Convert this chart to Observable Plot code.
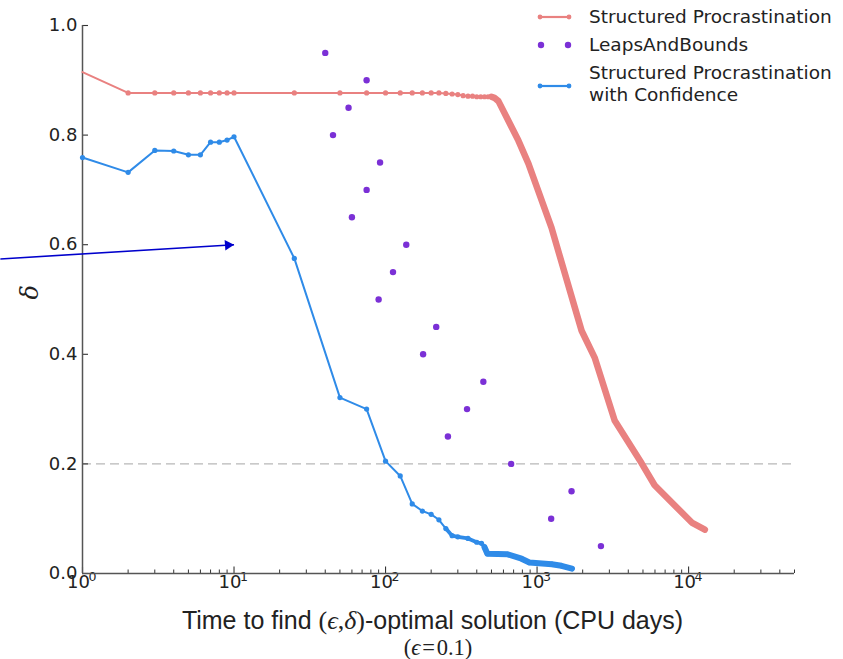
<!DOCTYPE html>
<html>
<head>
<meta charset="utf-8">
<script src="https://cdn.jsdelivr.net/npm/d3@7"></script>
<script src="https://cdn.jsdelivr.net/npm/@observablehq/plot@0.6"></script>
<style>
  body { margin: 0; background: #fff; }
  #wrap { position: relative; width: 843px; height: 659px; overflow: hidden; background: #fff; }
  #chart svg { display: block; }
  .leg { position: absolute; left: 589px; font-family: "DejaVu Sans", sans-serif; font-size: 18.5px; line-height: 22px; color: #222; white-space: nowrap; }
  .sw { position: absolute; left: 534px; }
  #xlabel { position: absolute; left: 0; width: 865px; top: 606px; text-align: center; font-family: "Liberation Sans", Arial, sans-serif; font-size: 25px; line-height: 29px; color: #222; white-space: nowrap; }
  #note { position: absolute; left: 0; width: 876px; top: 635px; text-align: center; font-family: "Liberation Serif", serif; font-size: 22.5px; line-height: 25px; color: #222; white-space: nowrap; }
  .m { font-family: "Liberation Serif", "DejaVu Serif", serif; font-size: 26px; }
</style>
</head>
<body>
<div id="wrap">
  <div id="chart"></div>
  <div id="xlabel">Time to find <span class="m">(<i>ϵ</i>,<i>δ</i>)</span>-optimal solution (CPU days)</div>
  <div id="note">(<i>ϵ</i>&#8202;=&#8202;0.1)</div>
</div>
<script>
// ---- Data ----
// Structured Procrastination
const spTime = [1,2,3,4,5,6,7,8,9,10,
  25,50,75,100,125,150,175,200,225,250,275,300,325,350,375,400,425,450,475,500,
  523,556,753,877,1245,1824,1968,2399,3251,4900,5970,10500,12800];
const spDelta = [0.915,0.877,0.877,0.877,0.877,0.877,0.877,0.877,0.877,0.877,
  0.877,0.877,0.877,0.877,0.877,0.877,0.877,0.877,0.877,0.876,0.875,0.874,0.872,0.871,0.871,0.870,0.870,0.870,0.870,0.870,
  0.868,0.862,0.790,0.748,0.631,0.474,0.443,0.394,0.279,0.201,0.161,0.093,0.080];

// LeapsAndBounds
const lbTime  = [40,75,57,45,92,75,60,137,112,90,216,177,442,345,258,674,1689,1239,2639];
const lbDelta = [0.95,0.90,0.85,0.80,0.75,0.70,0.65,0.60,0.55,0.50,0.45,0.40,0.35,0.30,0.25,0.20,0.15,0.10,0.05];

// Structured Procrastination with Confidence
const spcTime = [1,2,3,4,5,6,7,8,9,10,
  25,50,75,100,125,150,175,200,225,250,275,300,350,
  400,430,450,470,640,790,890,1250,1450,1700];
const spcDelta = [0.759,0.732,0.772,0.771,0.764,0.764,0.787,0.787,0.791,0.797,
  0.575,0.321,0.300,0.205,0.178,0.127,0.114,0.108,0.098,0.082,0.069,0.067,0.064,
  0.057,0.055,0.048,0.036,0.035,0.027,0.020,0.017,0.014,0.009];

// annotation arrow (start, tip)
const arrowTime  = [0.287, 10];
const arrowDelta = [0.574, 0.6];

// threshold
const threshold = [0.2];

// axes
const xMajorTicks = [1, 10, 100, 1000, 10000];
const xTickBase = ["10", "10", "10", "10", "10"];
const xTickExp = ["0", "1", "2", "3", "4"];
const xMinorTicks = [2,3,4,5,6,7,8,9,20,30,40,50,60,70,80,90,200,300,400,500,600,700,800,900,
  2000,3000,4000,5000,6000,7000,8000,9000,20000,30000,40000,50000];
const yTicks = [0, 0.2, 0.4, 0.6, 0.8, 1.0];

const seriesNames = ["Structured Procrastination", "LeapsAndBounds", "Structured Procrastination\nwith Confidence"];
const colors = {sp: "#e98180", lb: "#7b30d6", spc: "#2f8be8", arrow: "#0000cc"};

// ---- Build tables ----
const sp = spTime.map((t, i) => ({t, d: spDelta[i]}));
const lb = lbTime.map((t, i) => ({t, d: lbDelta[i]}));
const spc = spcTime.map((t, i) => ({t, d: spcDelta[i]}));
const arrow = [{t1: arrowTime[0], d1: arrowDelta[0], t2: arrowTime[1], d2: arrowDelta[1]}];
const xLabels = xMajorTicks.map((v, i) => ({v, base: xTickBase[i], exp: xTickExp[i]}));

const W = 843, H = 600, ML = 82, MR = 49, MT = 25, MB = 27;
const FW = W - ML - MR, FH = H - MT - MB;

const chart = Plot.plot({
  width: W, height: H,
  marginLeft: ML, marginRight: MR, marginTop: MT, marginBottom: MB,
  style: {fontFamily: "DejaVu Sans, sans-serif", fontSize: "18px", color: "#222", background: "white", overflow: "visible"},
  x: {type: "log", domain: [1, 5e4], axis: null},
  y: {domain: [0, 1]},
  marks: [
    Plot.ruleY(threshold, {stroke: "#b8b8b8", strokeWidth: 1.4, strokeDasharray: "9,5"}),
    Plot.axisY(yTicks, {tickSize: 0, tickPadding: 5, tickFormat: d3.format(".1f"), label: null}),
    Plot.text(xLabels, {x: "v", text: "base", frameAnchor: "bottom", dx: -4, dy: 14, fontSize: 18, fill: "#222"}),
    Plot.text(xLabels, {x: "v", text: "exp", frameAnchor: "bottom", dx: 10, dy: 7, fontSize: 12.5, fill: "#222"}),
    Plot.tickX(xMajorTicks, {x: d => d, insetTop: FH - 6.5, stroke: "#333", strokeWidth: 1.1}),
    Plot.tickX(xMinorTicks, {x: d => d, insetTop: FH - 3.5, stroke: "#333", strokeWidth: 1}),
    Plot.tickY(yTicks, {y: d => d, insetRight: FW - 6, stroke: "#333", strokeWidth: 1.1}),
    Plot.ruleX([1], {stroke: "#555", strokeWidth: 1.5}),
    Plot.ruleY([0], {stroke: "#555", strokeWidth: 1.5}),
    Plot.text(["δ"], {text: d => d, frameAnchor: "left", dx: -52, rotate: -90, fontFamily: "DejaVu Serif, serif", fontStyle: "italic", fontSize: 24, fill: "#222"}),
    // Structured Procrastination
    Plot.line(sp, {x: "t", y: "d", stroke: colors.sp, strokeWidth: 2}),
    Plot.line(sp, {x: "t", y: "d", stroke: colors.sp, strokeWidth: 6.5, filter: d => d.t >= 500, strokeLinecap: "round", strokeLinejoin: "round"}),
    Plot.dot(sp, {x: "t", y: "d", fill: colors.sp, r: 2.6, filter: d => d.t > 1 && d.t <= 500}),
    // Structured Procrastination with Confidence
    Plot.line(spc, {x: "t", y: "d", stroke: colors.spc, strokeWidth: 2}),
    Plot.line(spc, {x: "t", y: "d", stroke: colors.spc, strokeWidth: 3.8, filter: d => d.t >= 250 && d.t <= 470, strokeLinejoin: "round"}),
    Plot.line(spc, {x: "t", y: "d", stroke: colors.spc, strokeWidth: 6, filter: d => d.t >= 440, strokeLinecap: "round", strokeLinejoin: "round"}),
    Plot.dot(spc, {x: "t", y: "d", fill: colors.spc, r: 2.6}),
    // LeapsAndBounds
    Plot.dot(lb, {x: "t", y: "d", fill: colors.lb, r: 3.2}),
    // Annotation arrow
    Plot.link(arrow, {x1: "t1", y1: "d1", x2: "t2", y2: "d2", stroke: colors.arrow, strokeWidth: 1.6}),
    Plot.dot(arrow, {x: "t2", y: "d2", symbol: "triangle", r: 3.9, rotate: 86, dx: -6, dy: 0.4, fill: colors.arrow, stroke: "none"})
  ]
});
document.getElementById("chart").appendChild(chart);

// ---- Legend (HTML overlay) ----
const wrap = d3.select("#wrap");
const legendRows = [
  {name: seriesNames[0], color: colors.sp, kind: "line", top: 6, swY: 17},
  {name: seriesNames[1], color: colors.lb, kind: "dots", top: 34, swY: 45},
  {name: seriesNames[2], color: colors.spc, kind: "line", top: 62, swY: 86}
];
for (const row of legendRows) {
  const div = wrap.append("div").attr("class", "leg").style("top", row.top + "px");
  row.name.split("\n").forEach(line => div.append("div").text(line));
  const svg = wrap.append("svg").attr("class", "sw").attr("width", 42).attr("height", 12)
    .style("top", (row.swY - 6) + "px");
  if (row.kind === "line") {
    svg.append("line").attr("x1", 6).attr("x2", 35).attr("y1", 6).attr("y2", 6)
      .attr("stroke", row.color).attr("stroke-width", 2.2);
    [6, 35].forEach(cx => svg.append("circle").attr("cx", cx).attr("cy", 6).attr("r", 2.4).attr("fill", row.color));
  } else {
    [7, 34].forEach(cx => svg.append("circle").attr("cx", cx).attr("cy", 6).attr("r", 3.2).attr("fill", row.color));
  }
}
</script>
</body>
</html>
